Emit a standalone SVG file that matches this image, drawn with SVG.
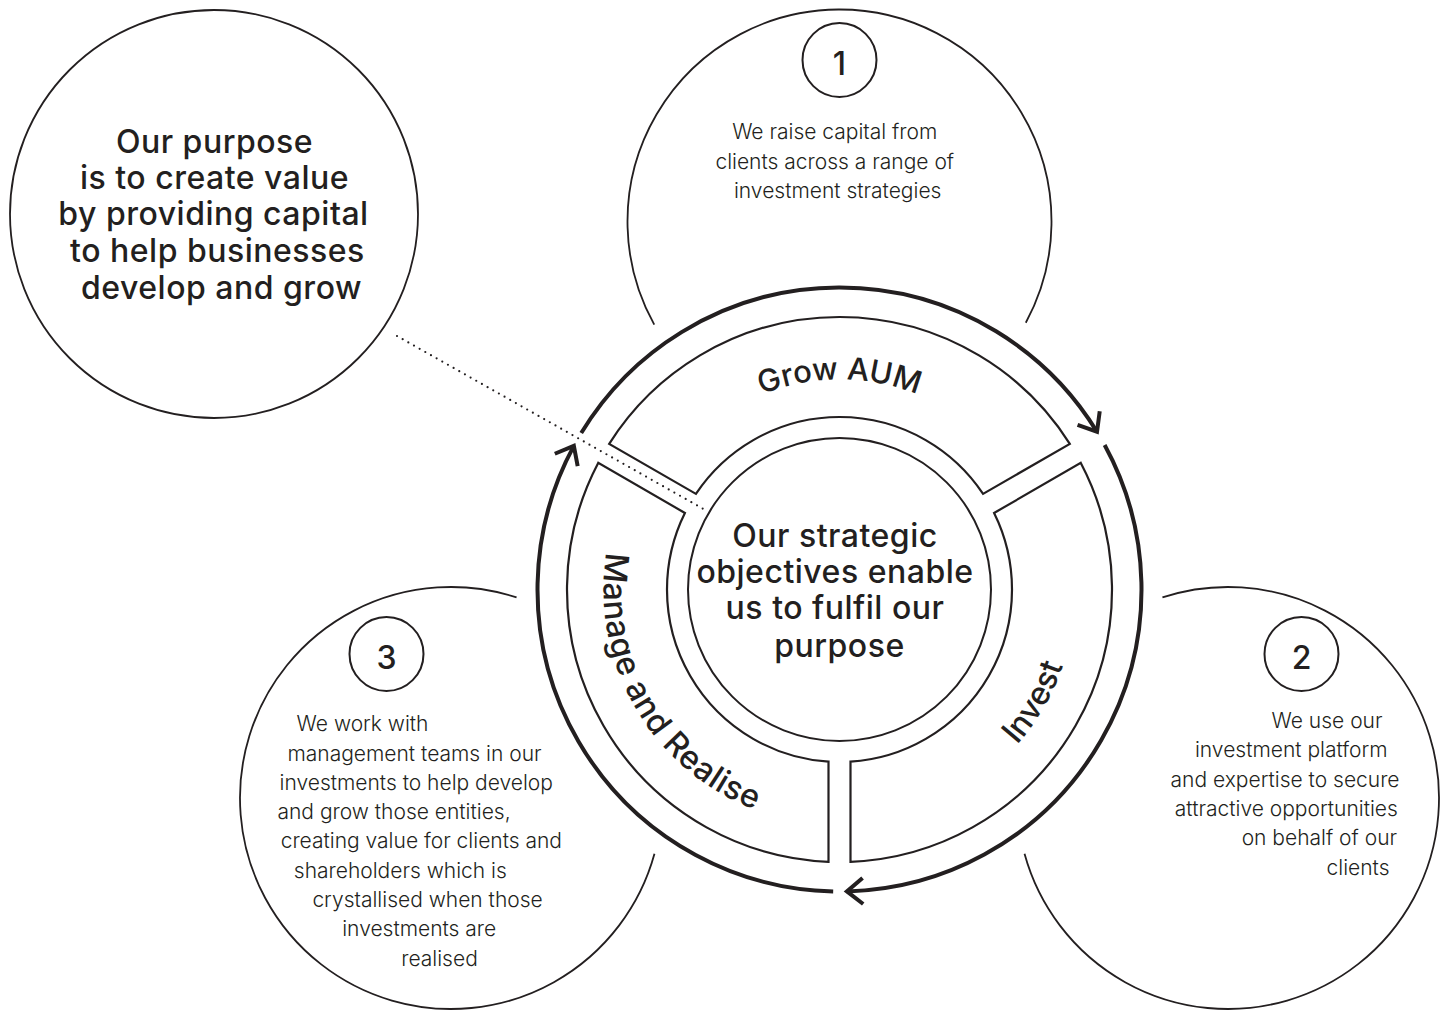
<svg xmlns="http://www.w3.org/2000/svg" xmlns:xlink="http://www.w3.org/1999/xlink" width="1448" height="1013" viewBox="0 0 1448 1013">
<style>
.bg{fill:#ffffff}
.big{fill:none;stroke:#231f20;stroke-width:1.8}
.badge{fill:#ffffff;stroke:#231f20;stroke-width:2}
.seg{fill:#ffffff;stroke:#231f20;stroke-width:2.2;stroke-linejoin:miter}
.core{fill:#ffffff;stroke:#231f20;stroke-width:2}
.flow{fill:none;stroke:#231f20;stroke-width:4;stroke-linecap:butt}
.dots{fill:none;stroke:#231f20;stroke-width:2.2;stroke-linecap:round;stroke-dasharray:0 6.5}
.head{font-family:Inter,"Liberation Sans",sans-serif;font-weight:500;fill:#231f20}
.body{font-family:Inter,"Liberation Sans",sans-serif;font-weight:300;fill:#231f20;font-size:21px}
.num{font-family:Inter,"Liberation Sans",sans-serif;font-weight:500;fill:#231f20;font-size:32px;text-anchor:middle}
.mid{text-anchor:middle}
</style>
<defs>
<marker id="chev" markerUnits="userSpaceOnUse" markerWidth="40" markerHeight="40" refX="0" refY="0" orient="auto" overflow="visible">
<path d="M -16 -13 L 0 0 L -16 13" fill="none" stroke="#231f20" stroke-width="4" stroke-linejoin="miter"/>
</marker>
<path id="pGrow" d="M 657.63 484.5 A 210 210 0 0 1 1021.37 484.5"/>
<path id="pManage" d="M 635.12 471.5 A 236 236 0 0 0 839.5 825.5"/>
<path id="pInvest" d="M 839.5 825.5 A 236 236 0 0 0 1043.88 471.5"/>
</defs>
<rect class="bg" x="0" y="0" width="1448" height="1013"/>

<g id="connectors">
<path class="dots" d="M 397 336 L 707 511"/>
<path class="flow" d="M 1104.65 444.94 A 302 302 0 0 1 846.88 891.41" marker-end="url(#chev)"/>
<path class="flow" d="M 833.18 891.43 A 302 302 0 0 1 573.85 445.86" marker-end="url(#chev)"/>
<path class="flow" d="M 581.23 433.05 A 302 302 0 0 1 1097.0 431.7" marker-end="url(#chev)"/>
</g>

<g id="purpose">
<circle class="big" cx="214" cy="214" r="204"/>
<text class="head mid" font-size="32" letter-spacing="0.5">
<tspan x="219" y="153.3">Our purpose</tspan>
<tspan x="219" y="189.3">is to create value</tspan>
<tspan x="218" y="225">by providing capital</tspan>
<tspan x="222" y="262.3">to help businesses</tspan>
<tspan x="221.5" y="299.3">develop and grow</tspan>
</text>
</g>

<g id="step1">
<path class="big" d="M 654.25 324.6 A 212 212 0 1 1 1025.8 322.7"/>
<circle class="badge" cx="839.5" cy="60" r="37"/>
<text class="num" x="839.5" y="74.5">1</text>
<text class="body mid">
<tspan x="837.7" y="139">We raise capital from</tspan>
<tspan x="837.7" y="168.5">clients across a range of</tspan>
<tspan x="837.7" y="198">investment strategies</tspan>
</text>
</g>

<g id="step2">
<path class="big" d="M 1162.45 597.44 A 211 211 0 1 1 1024.53 853.85"/>
<circle class="badge" cx="1301.5" cy="654" r="37"/>
<text class="num" x="1301.5" y="668.5">2</text>
<text class="body mid">
<tspan x="1330" y="728.3">We use our</tspan>
<tspan x="1294.2" y="757.3">investment platform</tspan>
<tspan x="1288" y="786.7">and expertise to secure</tspan>
<tspan x="1289.3" y="816">attractive opportunities</tspan>
<tspan x="1322.3" y="845">on behalf of our</tspan>
<tspan x="1358" y="875">clients</tspan>
</text>
</g>

<g id="step3">
<path class="big" d="M 654.47 853.85 A 211 211 0 1 1 516.55 597.44"/>
<circle class="badge" cx="386.5" cy="654" r="37"/>
<text class="num" x="386.5" y="668.5">3</text>
<text class="body mid">
<tspan x="365.5" y="730.7">We work with</tspan>
<tspan x="417.5" y="760.7">management teams in our</tspan>
<tspan x="419.2" y="790">investments to help develop</tspan>
<tspan x="397" y="819">and grow those entities,</tspan>
<tspan x="424.3" y="848.3">creating value for clients and</tspan>
<tspan x="403.3" y="877.7">shareholders which is</tspan>
<tspan x="430.5" y="906.7">crystallised when those</tspan>
<tspan x="422.2" y="936">investments are</tspan>
<tspan x="439.5" y="965.7">realised</tspan>
</text>
</g>

<g id="grow-aum">
<path class="seg" d="M 609.19 443.84 A 272.5 272.5 0 0 1 1069.81 443.84 L 983.08 493.89 A 172.5 172.5 0 0 0 695.92 493.89 Z"/>
<text class="head" font-size="31"><textPath href="#pGrow" xlink:href="#pGrow" startOffset="50%" text-anchor="middle">Grow AUM</textPath></text>
</g>

<g id="invest">
<path class="seg" d="M 1080.80 462.89 A 272.5 272.5 0 0 1 850.5 861.78 L 850.5 761.65 A 172.5 172.5 0 0 0 994.09 512.95 Z"/>
<text class="head" font-size="32"><textPath href="#pInvest" xlink:href="#pInvest" startOffset="50%" text-anchor="middle">Invest</textPath></text>
</g>

<g id="manage-realise">
<path class="seg" d="M 828.5 861.78 A 272.5 272.5 0 0 1 598.2 462.89 L 684.91 512.95 A 172.5 172.5 0 0 0 828.5 761.65 Z"/>
<text class="head" font-size="32.5" letter-spacing="0.5"><textPath href="#pManage" xlink:href="#pManage" startOffset="50%" text-anchor="middle">Manage and Realise</textPath></text>
</g>

<g id="core">
<circle class="core" cx="839.5" cy="589.5" r="151.5"/>
<text class="head mid" font-size="32" letter-spacing="0.5">
<tspan x="839.5" y="546.7">Our strategic</tspan>
<tspan x="839.5" y="582.7">objectives enable</tspan>
<tspan x="839.5" y="619.3">us to fulfil our</tspan>
<tspan x="839.5" y="656.7">purpose</tspan>
</text>
</g>
</svg>
